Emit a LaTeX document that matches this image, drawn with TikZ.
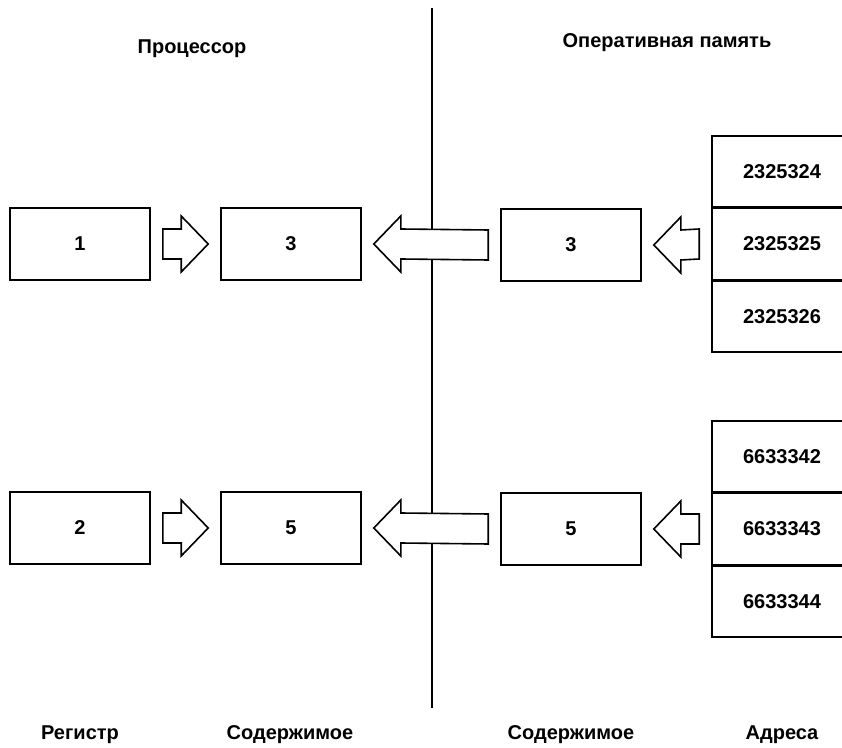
\documentclass[tikz,border=0pt]{standalone}
\usepackage{fontspec}
\setmainfont{Liberation Sans}
\usetikzlibrary{calc,positioning}

% hollow block arrow between two anchors, #1 = +1 (to the right) or -1 (to the left)
\newcommand{\blockarrow}[3]{%
  \draw[blockarrow] ($(#2)+(12*#1,15)$) -- ($(#3)+(-39*#1,15)$) -- ($(#3)+(-39*#1,28)$)
    -- ($(#3)+(-12*#1,0)$) -- ($(#3)+(-39*#1,-28)$) -- ($(#3)+(-39*#1,-15)$)
    -- ($(#2)+(12*#1,-15)$) -- cycle;}

\begin{document}
\begin{tikzpicture}[x=0.5pt, y=-0.5pt,
    cell/.style={draw, line width=0.8pt, minimum width=70pt, minimum height=36pt, font=\bfseries},
    memcell/.style={cell, minimum height=35.5pt},
    blockarrow/.style={draw, fill=white, line width=0.8pt, line join=miter},
    caption/.style={font=\bfseries}]
  \useasboundingbox (0,0) rectangle (842,748);
  \clip (0,0) rectangle (842,748);

  % divider between processor and memory
  \coordinate (divtop) at (432,8);
  \coordinate (divbot) at (432,708);
  \draw[line width=1pt] (divtop) -- (divbot);

  % headings
  \node[caption] (cpu) at (192,49) {Процессор};
  \node[caption] (ram) at (667,43) {Оперативная память};

  % first row
  \node[cell] (reg1) at (80,244) {1};
  \node[cell] (val1) at (291,244) {3};
  \node[cell] (mval1) at (571,245) {3};
  \node[memcell] (addr12) at (782,244) {2325325};
  \node[memcell, above=0pt of addr12] (addr11) {2325324};
  \node[memcell, below=0pt of addr12] (addr13) {2325326};

  \blockarrow{1}{reg1.east}{val1.west}
  \blockarrow{-1}{mval1.west}{val1.east}
  \blockarrow{-1}{addr12.west}{mval1.east}

  % second row
  \node[cell] (reg2) at (80,528) {2};
  \node[cell] (val2) at (291,528) {5};
  \node[cell] (mval2) at (571,529) {5};
  \node[memcell] (addr22) at (782,529) {6633343};
  \node[memcell, above=0pt of addr22] (addr21) {6633342};
  \node[memcell, below=0pt of addr22] (addr23) {6633344};

  \blockarrow{1}{reg2.east}{val2.west}
  \blockarrow{-1}{mval2.west}{val2.east}
  \blockarrow{-1}{addr22.west}{mval2.east}

  % column captions
  \node[caption] (regcap) at (80,735) {Регистр};
  \node[caption] (valcap) at (290,735) {Содержимое};
  \node[caption] (mvalcap) at (571,735) {Содержимое};
  \node[caption] (addrcap) at (782,735) {Адреса};
\end{tikzpicture}
\end{document}
